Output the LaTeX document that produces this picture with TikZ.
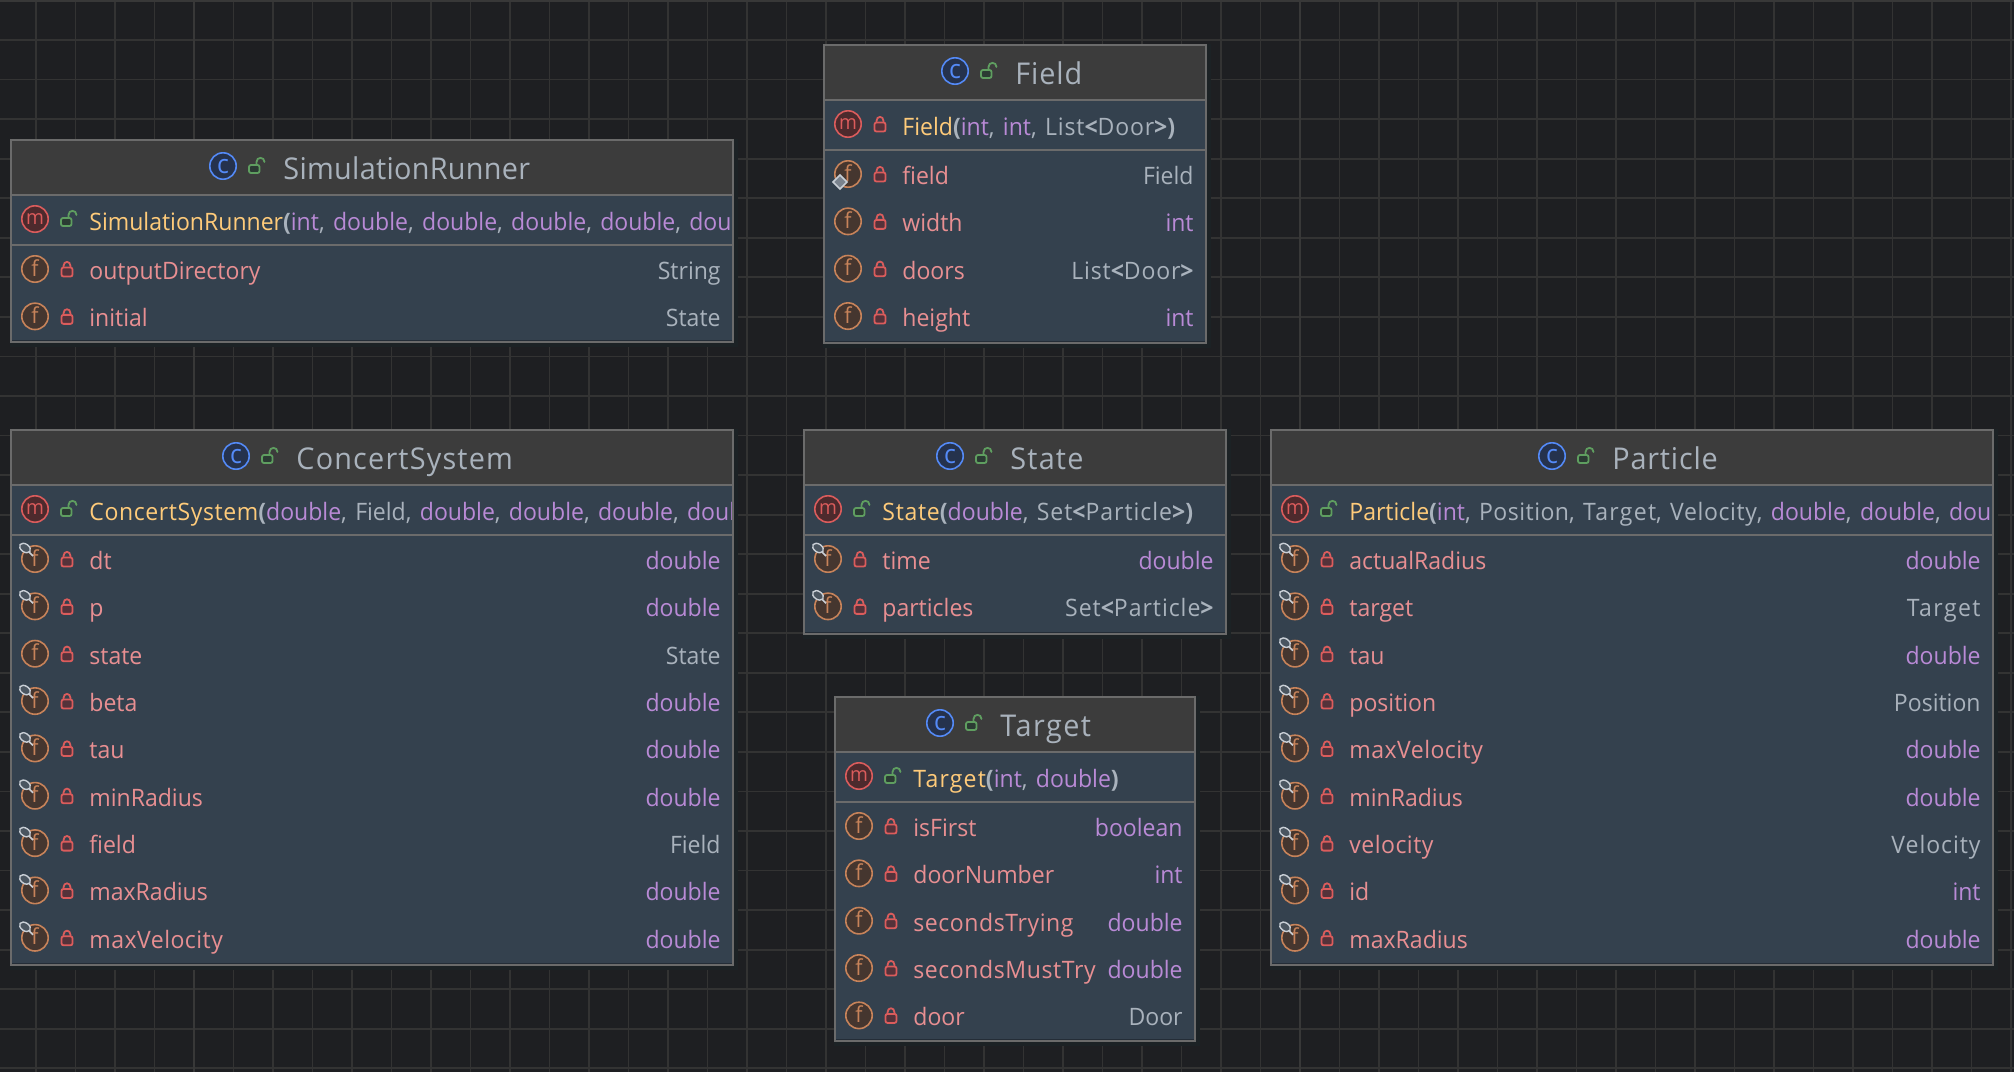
\documentclass[tikz,border=0pt]{standalone}
\usepackage{fontspec}
\setmainfont[FakeStretch=0.96,Kerning=Off]{Open Sans}
\definecolor{bgc}{HTML}{1E1F22}
\definecolor{gridc}{HTML}{333333}
\definecolor{gridm}{HTML}{383838}
\definecolor{shad}{HTML}{1C2225}
\definecolor{bord}{HTML}{6B6B6B}
\definecolor{head}{HTML}{3C3C3C}
\definecolor{body}{HTML}{34414E}
\definecolor{titlec}{HTML}{A9B2BC}
\definecolor{mname}{HTML}{FFCB7A}
\definecolor{fname}{HTML}{E88F92}
\definecolor{purp}{HTML}{B98AD6}
\definecolor{grey}{HTML}{A9B2BC}
\definecolor{mcs}{HTML}{DB5C5C}
\definecolor{mcf}{HTML}{4D2A2D}
\definecolor{fcs}{HTML}{C7835A}
\definecolor{fcf}{HTML}{45362F}
\definecolor{ccs}{HTML}{548AF7}
\definecolor{ccf}{HTML}{25324D}
\definecolor{lrs}{HTML}{DB5C5C}
\definecolor{lrf}{HTML}{55323A}
\definecolor{lgs}{HTML}{5F9E60}
\definecolor{lgf}{HTML}{2B3B33}
\definecolor{pins}{HTML}{C9CFD6}
\definecolor{pinf}{HTML}{4A5560}
\newcommand{\rowfont}{\fontsize{12}{14}\selectfont}
\newcommand{\ttlfont}{\fontsize{15}{18}\selectfont}
\newcommand{\ls}[2]{{\addfontfeature{LetterSpace=#1}#2}}
\newcommand{\ty}[1]{\textcolor{purp}{#1}}
\newcommand{\gy}[1]{\textcolor{grey}{#1}}
\newcommand{\mn}[1]{\textcolor{mname}{#1}}
\newcommand{\bb}[1]{\textcolor{grey}{\bfseries #1}}
\newcommand{\dbl}{\ty{double}}
\newcommand{\csep}{\gy{, }\hspace{1.2pt}}
\newcommand{\lockshut}[2]{%
  \begin{scope}[shift={(#1,#2)},line width=0.9pt]
    \draw[lrs,line cap=round] (-3.5,-2) -- (-3.5,-3) .. controls (-3.5,-8.5) and (3.5,-8.5) .. (3.5,-3) -- (3.5,-2);
    \draw[lrs,fill=lrf,rounded corners=1pt] (-5.5,-1.5) rectangle (5.5,7.5);
  \end{scope}}
\newcommand{\lockopen}[2]{%
  \begin{scope}[shift={(#1,#2)},line width=0.9pt]
    \draw[lgs,line cap=round] (-0.5,-1) -- (-0.5,-4) .. controls (-0.5,-9.5) and (7.5,-9.5) .. (7.5,-4);
    \draw[lgs,fill=lgf,rounded corners=1pt] (-8,-1) rectangle (2.5,7);
  \end{scope}}
\newcommand{\iconc}[2]{%
  \draw[ccs,fill=ccf,line width=0.8pt] (#1,#2) circle[radius=6.6pt];
  \node[anchor=base,inner sep=0,text=ccs,font=\fontsize{13}{13}\selectfont] at (#1,#2+7) {c};}
\newcommand{\iconm}[2]{%
  \draw[mcs,fill=mcf,line width=0.8pt] (#1,#2) circle[radius=6.6pt];
  \node[anchor=base,inner sep=0,text=mcs,font=\fontsize{10}{12}\selectfont] at (#1,#2+5.5) {m};}
\newcommand{\iconf}[2]{%
  \draw[fcs,fill=fcf,line width=0.8pt] (#1,#2) circle[radius=6.6pt];
  \node[anchor=base,inner sep=0,text=fcs,font=\fontsize{11}{12}\selectfont] at (#1,#2+7) {f};}
\newcommand{\badgep}[2]{%
  \begin{scope}[shift={(#1,#2)}]
    \draw[pins,line width=0.8pt] (-6,-7) -- (-2,-3);
    \draw[pins,fill=pinf,line width=0.7pt,rotate around={-35:(-10,-11)}] (-10,-11) ellipse[x radius=3pt,y radius=2pt];
  \end{scope}}
\newcommand{\badged}[2]{%
  \begin{scope}[shift={(#1,#2)}]
    \draw[pins,fill=pinf!50!grey,line width=0.8pt] (-8,1) -- (-1,8) -- (-8,15) -- (-15,8) -- cycle;
  \end{scope}}
\newcommand{\badgen}[2]{}
% id, left, top, right, bottom, icon x, title
\newcommand{\umlclass}[7]{%
  \def\CID{#1}\def\CL{#2}\def\CT{#3}\def\CR{#4}\def\CB{#5}
  \fill[shad] (#2-1,#3-1) rectangle (#4+5,#5+5);
  \fill[body] (#2,#3) rectangle (#4,#5);
  \fill[head] (#2,#3) rectangle (#4,#3+55);
  \draw[bord,line width=0.8pt] (#2,#3+55) -- (#4,#3+55);
  \draw[bord,line width=0.8pt] (#2,#3+105) -- (#4,#3+105);
  \draw[black!30!body,line width=0.5pt] (#2,#5-2) -- (#4,#5-2);
  \draw[bord,line width=1pt] (#2,#3) rectangle (#4,#5);
  \iconc{#6}{#3+26}
  \lockopen{#6+34}{#3+26}
  \node[anchor=base west,inner sep=0,text=titlec,font=\ttlfont] (#1-title) at (#6+60,#3+39) {#7};}
% lock kind (open/shut), text
\newcommand{\umlmethod}[2]{%
  \iconm{\CL+24}{\CT+79}
  \csname lock#1\endcsname{\CL+\csname lockx#1\endcsname}{\CT+79}
  \begin{scope}
    \clip (\CL+1,\CT+56) rectangle (\CR-2,\CT+104);
    \node[anchor=base west,inner sep=0,font=\rowfont] (\CID-ctor) at (\CL+78,\CT+90) {#2};
  \end{scope}}
\newcommand{\lockxopen}{58}
\newcommand{\lockxshut}{56}
% index, name, type, badge letter
\newcommand{\umlfield}[4]{%
  \pgfmathsetmacro{\Fy}{\CT+129+47.35*#1}
  \iconf{\CL+24}{\Fy}
  \csname badge#4\endcsname{\CL+24}{\Fy}
  \lockshut{\CL+56}{\Fy}
  \node[anchor=base west,inner sep=0,text=fname,font=\rowfont] (\CID-n#1) at (\CL+78,\Fy+10.5) {#2};
  \node[anchor=base east,inner sep=0,font=\rowfont] (\CID-t#1) at (\CR-12,\Fy+10.5) {#3};}
\begin{document}
\begin{tikzpicture}[x=0.5pt,y=-0.5pt]
\useasboundingbox (0,0) rectangle (2014,1072);
\fill[bgc] (0,0) rectangle (2014,1072);
\foreach \k in {0,...,50}{
  \pgfmathsetmacro{\vx}{36+39.5*\k}
  \draw[gridc,line width=0.9pt] (\vx,0) -- (\vx,1072);}
\foreach \k in {0,...,26}{
  \pgfmathsetmacro{\hy}{40+39.55*\k}
  \draw[gridc,line width=0.9pt] (0,\hy) -- (2014,\hy);}
\draw[gridm,line width=1.2pt] (0,1) -- (2014,1);
\draw[gridm,line width=0.9pt] (194,0) -- (194,1072);
\draw[gridm,line width=0.9pt] (1300,0) -- (1300,1072);

% SimulationRunner
\umlclass{runner}{11}{140}{733}{342}{223}{\ls{1}{SimulationRunner}}
\umlmethod{open}{\mn{SimulationRunner}\bb{(}\ty{int}\csep\dbl\csep\dbl\csep\dbl\csep\dbl\csep\dbl}
\umlfield{0}{outputDirectory}{\gy{String}}{n}
\umlfield{1}{initial}{\gy{State}}{n}

% Field
\umlclass{field}{824}{45}{1206}{343}{955}{\ls{3}{Field}}
\umlmethod{shut}{\mn{Field}\bb{(}\ty{int}\csep\ty{int}\csep\ls{3.5}{\gy{List}\bb{<}\gy{Door}\bb{>}\bb{)}}}
\umlfield{0}{field}{\gy{Field}}{d}
\umlfield{1}{width}{\ty{int}}{n}
\umlfield{2}{doors}{\ls{3.5}{\gy{List}\bb{<}\gy{Door}\bb{>}}}{n}
\umlfield{3}{height}{\ty{int}}{n}

% ConcertSystem
\umlclass{concert}{11}{430}{733}{965}{236}{\ls{4}{ConcertSystem}}
\umlmethod{open}{\mn{\ls{2.5}{ConcertSystem}}\bb{(}\dbl\csep\gy{Field}\csep\dbl\csep\dbl\csep\dbl\csep\dbl}
\umlfield{0}{dt}{\dbl}{p}
\umlfield{1}{p}{\dbl}{p}
\umlfield{2}{state}{\gy{State}}{n}
\umlfield{3}{beta}{\dbl}{p}
\umlfield{4}{tau}{\dbl}{p}
\umlfield{5}{minRadius}{\dbl}{p}
\umlfield{6}{field}{\gy{Field}}{p}
\umlfield{7}{maxRadius}{\dbl}{p}
\umlfield{8}{\ls{2}{maxVelocity}}{\dbl}{p}

% State
\umlclass{state}{804}{430}{1226}{634}{950}{\ls{4}{State}}
\umlmethod{open}{\mn{\ls{3}{State}}\bb{(}\dbl\csep\ls{4}{\gy{Set}\bb{<}\gy{Particle}\bb{>}\bb{)}}}
\umlfield{0}{time}{\dbl}{p}
\umlfield{1}{particles}{\ls{4}{\gy{Set}\bb{<}\gy{Particle}\bb{>}}}{p}

% Target
\umlclass{target}{835}{697}{1195}{1041}{940}{\ls{5}{Target}}
\umlmethod{open}{\mn{\ls{5}{Target}}\bb{(}\ty{int}\csep\dbl\bb{)}}
\umlfield{0}{isFirst}{\ty{boolean}}{n}
\umlfield{1}{doorNumber}{\ty{int}}{n}
\umlfield{2}{\ls{2.4}{secondsTrying}}{\dbl}{n}
\umlfield{3}{\ls{2.4}{secondsMustTry}}{\dbl}{n}
\umlfield{4}{door}{\gy{Door}}{n}

% Particle
\umlclass{particle}{1271}{430}{1993}{965}{1552}{\ls{2.7}{Particle}}
\umlmethod{open}{\mn{Particle}\bb{(}\ty{int}\csep\ls{2}{\gy{Position}}\csep\ls{5.4}{\gy{Target}}\csep\ls{2.5}{\gy{Velocity}}\csep\dbl\csep\dbl\csep\dbl}
\umlfield{0}{actualRadius}{\dbl}{p}
\umlfield{1}{target}{\ls{6}{\gy{Target}}}{p}
\umlfield{2}{tau}{\dbl}{p}
\umlfield{3}{position}{\gy{Position}}{p}
\umlfield{4}{\ls{2}{maxVelocity}}{\dbl}{p}
\umlfield{5}{minRadius}{\dbl}{p}
\umlfield{6}{\ls{2}{velocity}}{\ls{4}{\gy{Velocity}}}{p}
\umlfield{7}{id}{\ty{int}}{p}
\umlfield{8}{maxRadius}{\dbl}{p}
\end{tikzpicture}
\end{document}
